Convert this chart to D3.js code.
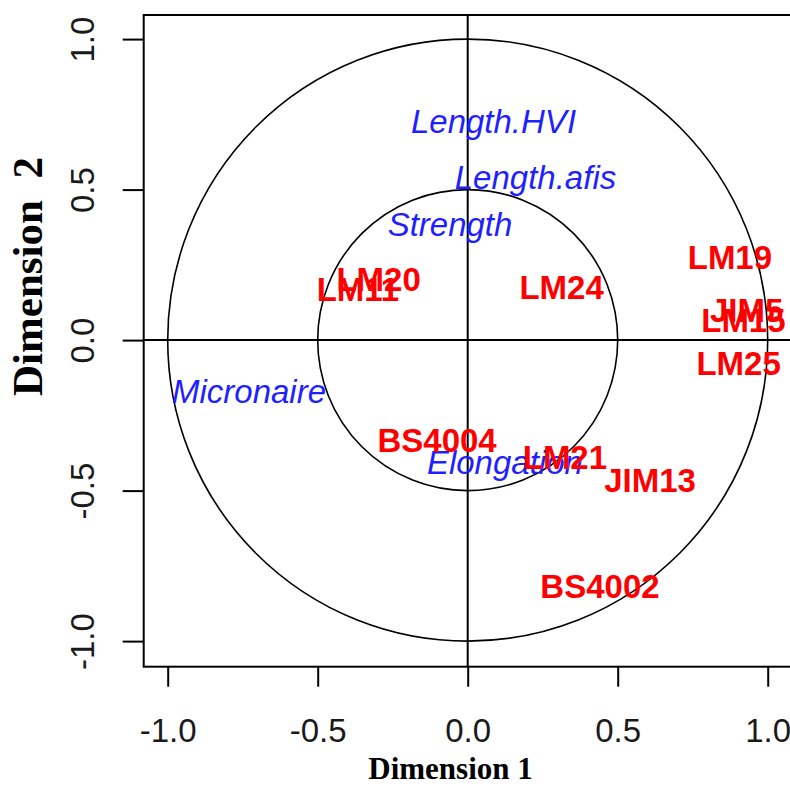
<!DOCTYPE html>
<html>
<head>
<meta charset="utf-8">
<script src="https://cdn.jsdelivr.net/npm/d3@7"></script>
<style>
  html, body { margin: 0; padding: 0; background: #fff; }
  svg { display: block; }
  text { white-space: pre; }
</style>
</head>
<body>
<svg id="chart" width="790" height="786"></svg>
<script>
// Variable (trait) coordinates on the correlation circle
const variableNames = ["Length.HVI", "Length.afis", "Strength", "Micronaire", "Elongation"];
const variableDim1  = [0.086, 0.226, -0.059, -0.729, 0.124];
const variableDim2  = [0.726, 0.540, 0.385, -0.171, -0.404];

// Genotype coordinates
const genotypeNames = ["LM24", "LM19", "JIM5", "LM15", "LM25", "LM20", "LM11", "BS4004", "LM21", "JIM13", "BS4002"];
const genotypeDim1  = [0.313, 0.874, 0.930, 0.919, 0.903, -0.297, -0.366, -0.102, 0.324, 0.608, 0.441];
const genotypeDim2  = [0.176, 0.274, 0.100, 0.066, -0.078, 0.204, 0.168, -0.332, -0.390, -0.465, -0.817];

// Reference circles and axis ticks
const circleRadii = [1.0, 0.5];
const tickValues  = [-1.0, -0.5, 0.0, 0.5, 1.0];

const svg = d3.select("#chart");

const x = d3.scaleLinear().domain([-1.08, 1.08]).range([143.7, 791.7]);
const y = d3.scaleLinear().domain([-1.085, 1.08]).range([666.7, 15]);

// One decimal, plain hyphen for negatives
const fmt = v => d3.format(".1f")(v).replace("\u2212", "-");
const sansFont = "Arial, 'Liberation Sans', sans-serif";
const serifFont = "'Times New Roman', 'Liberation Serif', serif";

// Bottom axis: ticks only, labels drawn below
const xAxis = svg.append("g")
  .attr("transform", `translate(0,${y.range()[0]})`)
  .call(d3.axisBottom(x).tickValues(tickValues).tickSize(20).tickFormat(fmt));
xAxis.select(".domain").remove();
xAxis.selectAll(".tick line").attr("stroke", "#000").attr("stroke-width", 2);
xAxis.selectAll(".tick text")
  .attr("font-family", sansFont).attr("font-size", 33).attr("fill", "#1a1a1a")
  .attr("dy", null).attr("y", 75);

// Left axis: ticks with labels rotated parallel to the axis
const yAxis = svg.append("g")
  .attr("transform", `translate(${x.range()[0]},0)`)
  .call(d3.axisLeft(y).tickValues(tickValues).tickSize(21).tickFormat(fmt));
yAxis.select(".domain").remove();
yAxis.selectAll(".tick line").attr("stroke", "#000").attr("stroke-width", 2);
yAxis.selectAll(".tick text")
  .attr("font-family", sansFont).attr("font-size", 33).attr("fill", "#1a1a1a")
  .attr("dy", null)
  .attr("text-anchor", "middle")
  .attr("transform", "translate(-50,0) rotate(-90)")
  .attr("x", 0).attr("y", 0);

// Plot frame
svg.append("rect")
  .attr("x", x.range()[0]).attr("y", y.range()[1])
  .attr("width", x.range()[1] - x.range()[0])
  .attr("height", y.range()[0] - y.range()[1])
  .attr("fill", "none").attr("stroke", "#000").attr("stroke-width", 2);

// Cross lines through the origin
svg.append("line")
  .attr("x1", x.range()[0]).attr("x2", x.range()[1])
  .attr("y1", y(0)).attr("y2", y(0))
  .attr("stroke", "#000").attr("stroke-width", 2);
svg.append("line")
  .attr("x1", x(0)).attr("x2", x(0))
  .attr("y1", y.range()[0]).attr("y2", y.range()[1])
  .attr("stroke", "#000").attr("stroke-width", 2);

// Correlation circles
svg.selectAll("ellipse.ring")
  .data(circleRadii)
  .join("ellipse")
  .attr("class", "ring")
  .attr("cx", x(0)).attr("cy", y(0))
  .attr("rx", r => x(r) - x(0))
  .attr("ry", r => y(0) - y(r))
  .attr("fill", "none").attr("stroke", "#000").attr("stroke-width", 1.6);

// Variable labels (blue italic)
const variables = variableNames.map((n, i) => ({ name: n, d1: variableDim1[i], d2: variableDim2[i] }));
svg.selectAll("text.var")
  .data(variables)
  .join("text")
  .attr("class", "var")
  .attr("x", d => x(d.d1)).attr("y", d => y(d.d2))
  .attr("dy", "0.36em")
  .attr("text-anchor", "middle")
  .attr("font-family", sansFont).attr("font-style", "italic")
  .attr("font-size", 33).attr("fill", "#1f1fff")
  .text(d => d.name);

// Genotype labels (red bold)
const genotypes = genotypeNames.map((n, i) => ({ name: n, d1: genotypeDim1[i], d2: genotypeDim2[i] }));
svg.selectAll("text.geno")
  .data(genotypes)
  .join("text")
  .attr("class", "geno")
  .attr("x", d => x(d.d1)).attr("y", d => y(d.d2))
  .attr("dy", "0.36em")
  .attr("text-anchor", "middle")
  .attr("font-family", sansFont).attr("font-weight", "bold")
  .attr("font-size", 33).attr("fill", "#ff0000")
  .text(d => d.name);

// Axis titles
svg.append("text")
  .attr("x", 450.5).attr("y", 779)
  .attr("text-anchor", "middle")
  .attr("font-family", serifFont).attr("font-weight", "bold")
  .attr("font-size", 31).attr("fill", "#000")
  .text("Dimension 1");

svg.append("text")
  .attr("transform", "translate(42,276.5) rotate(-90)")
  .attr("text-anchor", "middle")
  .attr("font-family", serifFont).attr("font-weight", "bold")
  .attr("font-size", 43).attr("fill", "#000")
  .text("Dimension  2");
</script>
</body>
</html>
